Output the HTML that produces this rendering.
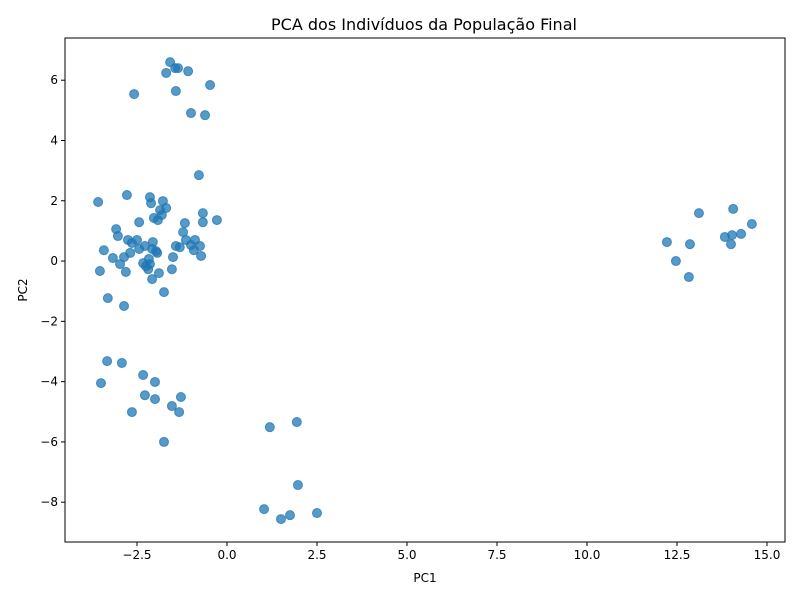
<!DOCTYPE html>
<html><head><meta charset="utf-8"><style>
body{margin:0;background:#fff;}
svg text{font-family:"DejaVu Sans","Liberation Sans",sans-serif;fill:#000;}
</style></head><body>
<svg id="chart" width="800" height="600" xmlns="http://www.w3.org/2000/svg">
<rect width="800" height="600" fill="#fff"/>
<text x="424" y="30" font-size="16" text-anchor="middle">PCA dos Indivíduos da População Final</text>
<g id="marks"></g>
<rect x="65" y="38" width="720" height="504" fill="none" stroke="#000" stroke-width="1"/>
<g id="xt"></g>
<g id="yt"></g>
<text x="425" y="582" font-size="12" text-anchor="middle">PC1</text>
<text x="27" y="290" font-size="12" text-anchor="middle" transform="rotate(-90 27 290)">PC2</text>
</svg>
<script>
const pc1 = [-1.58,-1.44,-1.36,-1.69,-1.08,-0.47,-1.42,-2.58,-1.0,-0.61,
-0.78,-3.58,-2.78,-2.14,-1.78,-2.11,-1.69,-1.86,-0.67,-0.28,-2.03,-1.92,-1.81,-2.44,-1.17,-0.67,-3.08,-1.22,-3.03,-2.75,-2.5,-2.64,-2.06,-1.14,-0.89,-2.28,-1.42,-1.31,-1.0,-0.75,-3.42,-2.44,-2.08,-1.97,-0.92,-2.69,-1.94,-3.17,-2.86,-1.5,-0.72,-2.17,-2.33,-2.97,-2.14,-2.25,-2.19,-1.53,-3.53,-2.81,-1.89,-2.08,-1.75,-3.31,-2.86,
-3.33,-2.92,-2.33,-2.0,-3.5,-2.28,-1.28,-2.0,-1.53,-2.64,-1.33,-1.75,
1.19,1.94,1.97,1.03,1.75,1.5,2.5,
12.22,12.47,12.86,12.83,13.11,13.83,14.06,14.03,14.28,14.0,14.58];
const pc2 = [6.60,6.40,6.40,6.24,6.30,5.84,5.64,5.54,4.91,4.84,
2.85,1.96,2.19,2.12,1.99,1.92,1.76,1.69,1.59,1.36,1.43,1.36,1.53,1.29,1.26,1.29,1.06,0.96,0.83,0.70,0.70,0.60,0.63,0.70,0.70,0.50,0.50,0.46,0.53,0.50,0.36,0.40,0.40,0.33,0.36,0.27,0.27,0.10,0.13,0.13,0.17,0.07,-0.07,-0.10,-0.10,-0.17,-0.27,-0.27,-0.33,-0.36,-0.40,-0.60,-1.03,-1.23,-1.49,
-3.32,-3.38,-3.78,-4.01,-4.05,-4.45,-4.51,-4.58,-4.81,-5.01,-5.01,-6.0,
-5.51,-5.34,-7.43,-8.23,-8.43,-8.56,-8.36,
0.63,0.0,0.56,-0.53,1.59,0.80,1.73,0.86,0.90,0.56,1.23];
const xTicks = [-2.5,0.0,2.5,5.0,7.5,10.0,12.5,15.0];
const xLabels = ["−2.5","0.0","2.5","5.0","7.5","10.0","12.5","15.0"];
const yTicks = [-8,-6,-4,-2,0,2,4,6];
const yLabels = ["−8","−6","−4","−2","0","2","4","6"];
const NS="http://www.w3.org/2000/svg";
const X0=65,X1=785,Y0=38,Y1=542,xmin=-4.5,xmax=15.5,ymin=-9.32,ymax=7.4;
const sx=v=>X0+(v-xmin)/(xmax-xmin)*(X1-X0);
const sy=v=>Y1-(v-ymin)/(ymax-ymin)*(Y1-Y0);
function mk(tag,attrs,parent){const e=document.createElementNS(NS,tag);for(const k in attrs)e.setAttribute(k,attrs[k]);parent.appendChild(e);return e;}
const g=document.getElementById('marks');
pc1.forEach((v,i)=>{
  const c=mk('circle',{cx:sx(v),cy:sy(pc2[i]),r:4.5,fill:'#1f77b4','fill-opacity':0.75,stroke:'#1f77b4','stroke-opacity':0.75,'stroke-width':1},g);
  
  
});
const xt=document.getElementById('xt');
xTicks.forEach((v,i)=>{
  const x=sx(v);
  const l=mk('line',{x1:x,x2:x,y1:Y1,y2:Y1+4,stroke:'#000'},xt);
  
  
  const t=mk('text',{x:x,y:Y1+17,'font-size':12,'text-anchor':'middle'},xt);
  t.textContent=xLabels[i];
  
  
});
const yt=document.getElementById('yt');
yTicks.forEach((v,i)=>{
  const y=sy(v);
  const l=mk('line',{x1:X0-4,x2:X0,y1:y,y2:y,stroke:'#000'},yt);
  
  
  const t=mk('text',{x:X0-7,y:y+4,'font-size':12,'text-anchor':'end'},yt);
  t.textContent=yLabels[i];
  
  
});
</script>
</body></html>
